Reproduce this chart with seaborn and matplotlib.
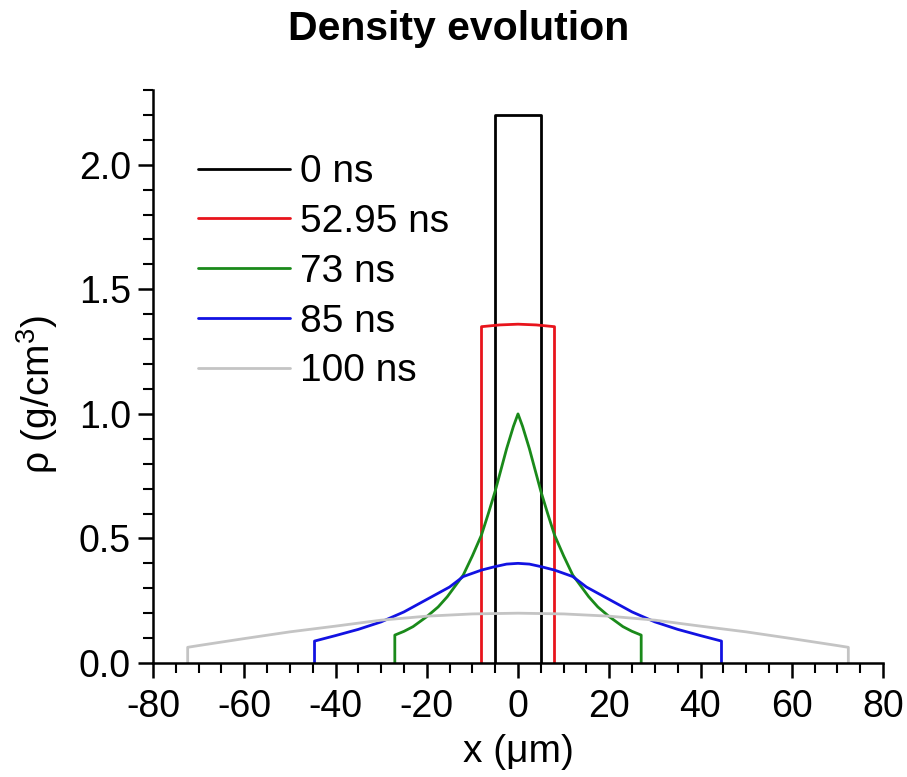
import numpy as np
import pandas as pd
import matplotlib
matplotlib.use("Agg")
import matplotlib.pyplot as plt
import seaborn as sns
from matplotlib.ticker import MultipleLocator, FormatStrFormatter

# ---- data ----
labels = ["0 ns", "52.95 ns", "73 ns", "85 ns", "100 ns"]
colors = ["#000000", "#e8141c", "#1a8a1a", "#1212e2", "#c4c4c4"]

x_0 = [-5, -5, 5, 5]
rho_0 = [0, 2.2, 2.2, 0]

x_53 = [-8, -8, -4, 0, 4, 8, 8]
rho_53 = [0, 1.35, 1.357, 1.36, 1.357, 1.35, 0]

x_73 = [-27, -27, -25, -23, -20, -17.5, -15.5, -12, -10, -8, -6.5, -5, -3.6, -2.5, -1, 0,
        1, 2.5, 3.6, 5, 6.5, 8, 10, 12, 15.5, 17.5, 20, 23, 25, 27, 27]
rho_73 = [0, 0.112, 0.127, 0.146, 0.186, 0.225, 0.266, 0.353, 0.43, 0.514, 0.60, 0.69, 0.785, 0.86, 0.95, 1.0,
          0.95, 0.86, 0.785, 0.69, 0.60, 0.514, 0.43, 0.353, 0.266, 0.225, 0.186, 0.146, 0.127, 0.112, 0]

x_85 = [-44.6, -44.6, -40, -35, -30, -25, -20, -15, -12, -8, -5, -2.5, 0,
        2.5, 5, 8, 12, 15, 20, 25, 30, 35, 40, 44.6, 44.6]
rho_85 = [0, 0.088, 0.11, 0.135, 0.165, 0.205, 0.255, 0.305, 0.347, 0.373, 0.387, 0.397, 0.40,
          0.397, 0.387, 0.373, 0.347, 0.305, 0.255, 0.205, 0.165, 0.135, 0.11, 0.088, 0]

x_100 = [-72.4, -72.4, -70, -60, -50, -40, -30, -20, -10, 0, 10, 20, 30, 40, 50, 60, 70, 72.4, 72.4]
rho_100 = [0, 0.063, 0.07, 0.098, 0.125, 0.148, 0.172, 0.188, 0.197, 0.20,
           0.197, 0.188, 0.172, 0.148, 0.125, 0.098, 0.07, 0.063, 0]

xs = [x_0, x_53, x_73, x_85, x_100]
ys = [rho_0, rho_53, rho_73, rho_85, rho_100]

frames = []
for lab, xv, yv in zip(labels, xs, ys):
    frames.append(pd.DataFrame({"x": xv, "rho": yv, "series": lab}))
df = pd.concat(frames, ignore_index=True)

# ---- style ----
sns.set_theme(style="ticks")
plt.rcParams["font.family"] = ["Liberation Sans", "DejaVu Sans"]
plt.rcParams["mathtext.fontset"] = "custom"
plt.rcParams["mathtext.rm"] = "Liberation Sans"
plt.rcParams["mathtext.it"] = "Liberation Sans"
plt.rcParams["mathtext.default"] = "regular"
plt.rcParams["axes.unicode_minus"] = False
plt.rcParams["text.color"] = "black"
plt.rcParams["axes.labelcolor"] = "black"

fig = plt.figure(figsize=(9.07, 7.77), dpi=100)
ax = fig.add_axes([153 / 907, 1 - 663 / 777, (883 - 153) / 907, (663 - 90) / 777])

sns.lineplot(data=df, x="x", y="rho", hue="series", hue_order=labels,
             palette=dict(zip(labels, colors)), sort=False, estimator=None,
             units="series", linewidth=2.0, ax=ax)

ax.set_xlim(-80, 80)
ax.set_ylim(0, 2.3)
ax.xaxis.set_major_locator(MultipleLocator(20))
ax.xaxis.set_minor_locator(MultipleLocator(5))
ax.yaxis.set_major_locator(MultipleLocator(0.5))
ax.yaxis.set_minor_locator(MultipleLocator(0.1))
ax.yaxis.set_major_formatter(FormatStrFormatter("%.1f"))

for s in ["top", "right"]:
    ax.spines[s].set_visible(False)
for s in ["left", "bottom"]:
    ax.spines[s].set_linewidth(1.8)
    ax.spines[s].set_color("black")

ax.tick_params(which="major", direction="out", length=11, width=1.8, labelsize=27,
               colors="black", pad=5)
ax.tick_params(axis="x", which="major", pad=8)
ax.tick_params(which="minor", direction="out", length=7, width=1.5, colors="black")

ax.set_xlabel("x (\u03bcm)", fontsize=28, labelpad=6)
ax.set_ylabel(r"$\rho$ (g/cm$^{3}$)", fontsize=28)
ax.yaxis.set_label_coords(-0.128, 0.468)

leg = ax.legend(loc="upper left", bbox_to_anchor=(45 / 730, 0.888), frameon=False,
                fontsize=28, handlelength=2.37, handletextpad=0.26, labelspacing=0.355,
                borderpad=0, borderaxespad=0)
for h in leg.get_lines():
    h.set_linewidth(2.0)
for t in leg.get_texts():
    t.set_color("black")

fig.suptitle("Density evolution", fontsize=29.5, fontweight="bold", color="black",
             x=0.506, y=1 - 29 / 777, va="center")

fig.savefig("out.png", dpi=100)
